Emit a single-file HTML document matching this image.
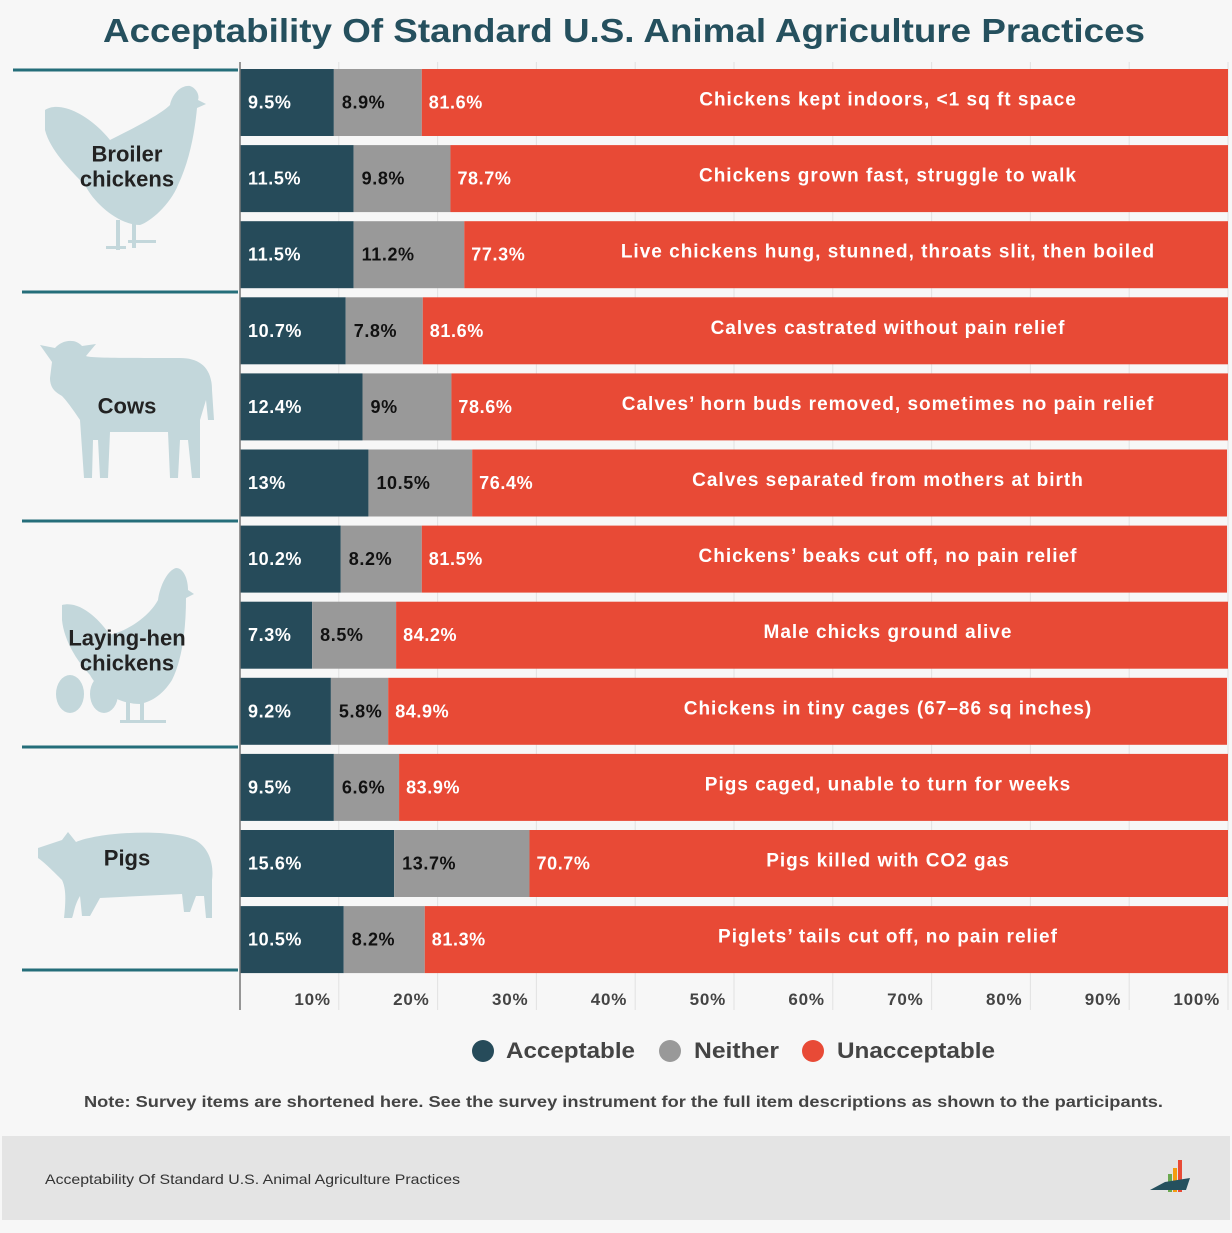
<!DOCTYPE html>
<html><head><meta charset="utf-8">
<style>
html,body{margin:0;padding:0;background:#f7f7f7;}
body{width:1232px;height:1228px;position:relative;overflow:hidden;font-family:"Liberation Sans",sans-serif;}
svg text{font-family:"Liberation Sans",sans-serif;}
</style></head><body>
<svg id="chart" width="1232" height="1228" viewBox="0 0 1232 1228" xmlns="http://www.w3.org/2000/svg">
<rect x="0" y="0" width="1232" height="1228" fill="#f7f7f7"/>
<text x="103" y="42" textLength="1042" lengthAdjust="spacingAndGlyphs" font-size="33" font-weight="bold" fill="#25505e">Acceptability Of Standard U.S. Animal Agriculture Practices</text>
<g id="grid"></g>
<g id="animals" fill="#c3d7db">
 <g>
  <path d="M45,110 C60,100 90,115 110,140 C130,130 160,115 170,105 C172,95 180,85 190,86 C196,88 200,95 198,100 L206,104 L197,108 C195,130 190,160 178,185 C170,205 150,222 140,225 C120,225 95,205 85,185 C70,170 50,150 45,130 Z"/>
  <rect x="116" y="220" width="4" height="30"/><rect x="132" y="220" width="4" height="28"/>
  <rect x="106" y="246" width="20" height="3"/><rect x="128" y="240" width="28" height="3"/>
 </g>
 <g>
  <path d="M40,345 L55,348 C62,340 75,338 82,346 L96,344 L86,356 C90,358 120,358 180,358 C200,358 212,368 212,390 L214,420 L208,420 L206,400 L200,420 L200,478 L192,478 L188,440 L180,440 L178,478 L170,478 L168,432 L110,432 L108,478 L100,478 L98,440 L93,440 L92,478 L84,478 L80,420 C72,408 66,400 62,396 C55,392 50,388 50,378 L52,362 Z"/>
 </g>
 <g>
  <path d="M62,605 C80,600 100,620 110,635 C130,630 150,615 158,600 C160,585 168,570 176,568 C184,568 188,580 188,590 L194,594 L186,598 C186,630 182,660 172,680 C162,696 150,702 140,704 C118,704 98,690 90,675 C76,660 64,640 62,620 Z"/>
  <rect x="126" y="700" width="4" height="22"/><rect x="140" y="700" width="4" height="22"/>
  <rect x="120" y="720" width="46" height="3"/>
  <ellipse cx="70" cy="694" rx="14" ry="19"/><ellipse cx="104" cy="694" rx="14" ry="19"/>
 </g>
 <g>
  <path d="M38,848 L62,840 L68,832 L76,842 C100,832 170,828 195,840 C210,848 214,866 212,880 L212,918 L206,918 L204,896 L196,896 L190,912 L184,912 L182,894 L100,898 L90,916 L82,916 L80,896 C74,906 74,914 72,918 L64,918 C66,900 66,888 62,880 C54,872 44,862 38,858 Z"/>
 </g>
</g>
<g id="groups"></g>
<g id="bars"></g>
<g id="axis"></g>
<g>
 <circle cx="483" cy="1051" r="11" fill="#264b5a"/>
 <text x="506" y="1058" textLength="129" lengthAdjust="spacingAndGlyphs" font-size="22" font-weight="bold" fill="#444">Acceptable</text>
 <circle cx="670" cy="1051" r="11" fill="#999"/>
 <text x="694" y="1058" textLength="85" lengthAdjust="spacingAndGlyphs" font-size="22" font-weight="bold" fill="#444">Neither</text>
 <circle cx="813" cy="1051" r="11" fill="#e84a36"/>
 <text x="837" y="1058" textLength="158" lengthAdjust="spacingAndGlyphs" font-size="22" font-weight="bold" fill="#444">Unacceptable</text>
</g>
<text x="84" y="1107" textLength="1079" lengthAdjust="spacingAndGlyphs" font-size="16" font-weight="bold" fill="#444">Note: Survey items are shortened here. See the survey instrument for the full item descriptions as shown to the participants.</text>
<rect x="2" y="1136" width="1228" height="84" fill="#e4e4e4"/>
<text x="45" y="1184" textLength="415" lengthAdjust="spacingAndGlyphs" font-size="14" fill="#333">Acceptability Of Standard U.S. Animal Agriculture Practices</text>
<g>
 <rect x="1168" y="1174" width="4" height="18" fill="#6aa84f"/><rect x="1173" y="1168" width="4" height="24" fill="#f39c12"/><rect x="1178" y="1160" width="4" height="32" fill="#e84a36"/>
 <path d="M1150,1190 L1165,1182 L1190,1178 L1186,1190 Z" fill="#25505e"/>
</g>
</svg>
<script>
const categories = ["Chickens kept indoors, <1 sq ft space","Chickens grown fast, struggle to walk","Live chickens hung, stunned, throats slit, then boiled","Calves castrated without pain relief","Calves\u2019 horn buds removed, sometimes no pain relief","Calves separated from mothers at birth","Chickens\u2019 beaks cut off, no pain relief","Male chicks ground alive","Chickens in tiny cages (67\u201386 sq inches)","Pigs caged, unable to turn for weeks","Pigs killed with CO2 gas","Piglets\u2019 tails cut off, no pain relief"];
const acceptable = [9.5,11.5,11.5,10.7,12.4,13,10.2,7.3,9.2,9.5,15.6,10.5];
const neither = [8.9,9.8,11.2,7.8,9,10.5,8.2,8.5,5.8,6.6,13.7,8.2];
const unacceptable = [81.6,78.7,77.3,81.6,78.6,76.4,81.5,84.2,84.9,83.9,70.7,81.3];
const labelsA = ["9.5%","11.5%","11.5%","10.7%","12.4%","13%","10.2%","7.3%","9.2%","9.5%","15.6%","10.5%"];
const labelsN = ["8.9%","9.8%","11.2%","7.8%","9%","10.5%","8.2%","8.5%","5.8%","6.6%","13.7%","8.2%"];
const labelsU = ["81.6%","78.7%","77.3%","81.6%","78.6%","76.4%","81.5%","84.2%","84.9%","83.9%","70.7%","81.3%"];
const ticks = [10,20,30,40,50,60,70,80,90,100];
const groups = ["Broiler|chickens","Cows","Laying-hen|chickens","Pigs"];

const NS="http://www.w3.org/2000/svg";
const x0=240, pxPer=9.88;
const xs=v=>x0+v*pxPer;
const rowY=i=>69+i*76.1;
const barH=67;
function mk(tag,attrs,parent,txt){const e=document.createElementNS(NS,tag);for(const k in attrs)e.setAttribute(k,attrs[k]);if(txt!==undefined)e.textContent=txt;parent.appendChild(e);return e;}
const grid=document.getElementById('grid'),bars=document.getElementById('bars'),axis=document.getElementById('axis'),gg=document.getElementById('groups');
ticks.forEach(t=>{
 const l=mk('line',{x1:xs(t),x2:xs(t),y1:62,y2:1010,stroke:'#e2e2e2','stroke-width':1},grid);
 
 
 const tx=mk('text',{x:xs(t)-8,y:1005,'text-anchor':'end','font-size':17,'font-weight':'bold','letter-spacing':0.8,fill:'#444'},axis,t+'%');
 
 
});
const ax=mk('line',{x1:240,x2:240,y1:62,y2:1010,stroke:'#777','stroke-width':1.5},axis);


categories.forEach((c,i)=>{
 const y=rowY(i), cy=y+barH/2+6;
 const a=acceptable[i], n=neither[i], u=unacceptable[i];
 const g=mk('g',{},bars);
 
 
 const r1=mk('rect',{x:xs(0),y:y,width:xs(a)-xs(0),height:barH,fill:'#264b5a'},g);
 
 
 const r2=mk('rect',{x:xs(a),y:y,width:xs(a+n)-xs(a),height:barH,fill:'#999'},g);
 
 
 const r3=mk('rect',{x:xs(a+n),y:y,width:Math.min(xs(a+n+u),1228)-xs(a+n),height:barH,fill:'#e84a36'},g);
 
 
 const t1=mk('text',{x:xs(0)+8,y:cy,'font-size':18,'font-weight':'bold','letter-spacing':0.6,fill:'#fff'},g,labelsA[i]);
 
 
 const t2=mk('text',{x:xs(a)+8,y:cy,'font-size':18,'font-weight':'bold','letter-spacing':0.6,fill:'#111'},g,labelsN[i]);
 
 
 const t3=mk('text',{x:xs(a+n)+7,y:cy,'font-size':18,'font-weight':'bold','letter-spacing':0.6,fill:'#fff'},g,labelsU[i]);
 
 
 const t4=mk('text',{x:888,y:cy-3,'text-anchor':'middle','font-size':19,'font-weight':'bold','letter-spacing':1,fill:'#fff'},g,c);
 
 
});
const sepY=[70,292,521,747,970], sepX=[13,22,22,22,22];
sepY.forEach((y,i)=>{
 const l=mk('line',{x1:sepX[i],x2:238,y1:y,y2:y,stroke:'#256e7a','stroke-width':3},gg);
 
 
});
groups.forEach((g,i)=>{
 const parts=g.split('|');
 const mid=(sepY[i]+sepY[i+1])/2+(i===0?-14:i===2?17:0);
 parts.forEach((p,j)=>{
  const t=mk('text',{x:127,y:mid+7+(j-(parts.length-1)/2)*25,'text-anchor':'middle','font-size':22,'font-weight':'bold',fill:'#222'},gg,p);
  
  
 });
});
</script>
</body></html>
